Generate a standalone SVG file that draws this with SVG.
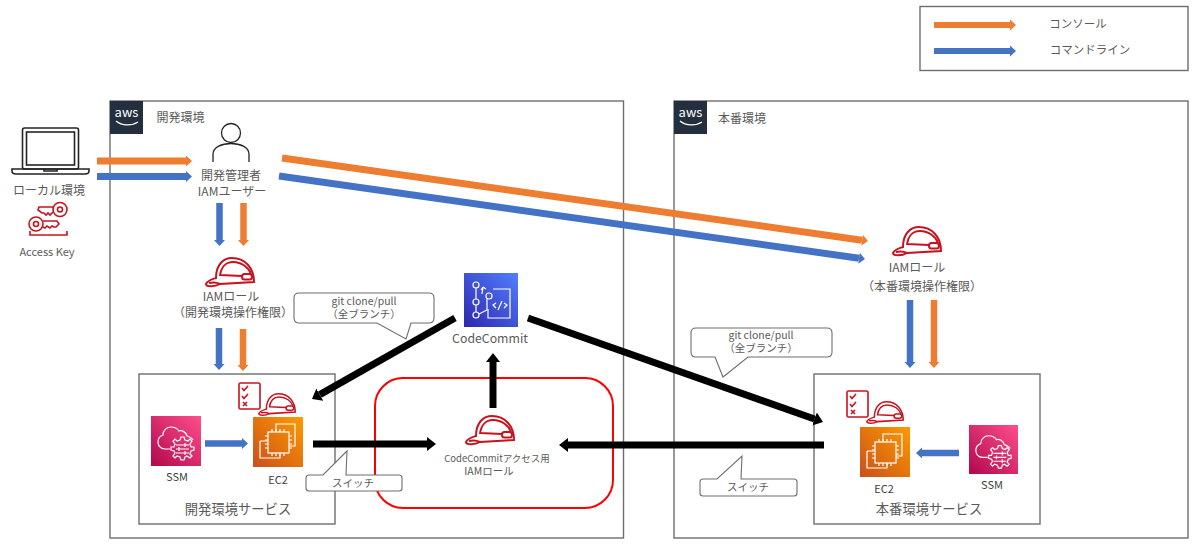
<svg xmlns="http://www.w3.org/2000/svg" width="1200" height="548" viewBox="0 0 1200 548">
<style>
text{font-family:"Noto Sans CJK JP","Noto Sans",sans-serif;font-size:12px;fill:#5a5a5a;text-anchor:middle}
.dark{fill:#404040}
.box{fill:none;stroke:#6e6e6e;stroke-width:1.4}
.call{fill:#fff;stroke:#6e6e6e;stroke-width:1.1}
.o{stroke:#ED7D31;fill:none;marker-end:url(#mo)}
.b{stroke:#4472C4;fill:none;marker-end:url(#mb)}
.k{stroke:#000;fill:none;marker-end:url(#mk)}
.w{fill:none;stroke:#fff;stroke-width:1.2}
.red{fill:none;stroke:#C7131F;stroke-width:1.6}
.hatl{fill:none;stroke:#C7131F;stroke-width:2}
.lap{fill:none;stroke:#232323;stroke-width:1.6}
</style>
<defs>
<marker id="mo" markerUnits="userSpaceOnUse" markerWidth="8" markerHeight="14" refX="0" refY="7" orient="auto"><path d="M0 1.5L6 7L0 12.500Z" fill="#ED7D31"/></marker>
<marker id="mb" markerUnits="userSpaceOnUse" markerWidth="8" markerHeight="14" refX="0" refY="7" orient="auto"><path d="M0 1.5L6 7L0 12.500Z" fill="#4472C4"/></marker>
<marker id="mk" markerUnits="userSpaceOnUse" markerWidth="10" markerHeight="16" refX="0" refY="8" orient="auto"><path d="M0 1L9 8L0 15Z" fill="#000"/></marker>
<linearGradient id="gs" x1="0" y1="1" x2="1" y2="0"><stop offset="0" stop-color="#B0084D"/><stop offset="1" stop-color="#FF4F8B"/></linearGradient>
<linearGradient id="ge" x1="0" y1="1" x2="1" y2="0"><stop offset="0" stop-color="#C8511B"/><stop offset="1" stop-color="#FF9900"/></linearGradient>
<linearGradient id="gc" x1="0" y1="1" x2="1" y2="0"><stop offset="0" stop-color="#2E27AD"/><stop offset="1" stop-color="#527FFF"/></linearGradient>
<symbol id="hat" viewBox="0 0 50 30" overflow="visible">
<path class="hatl" d="M1 27C3 23 8 22 11 21C11 7 19 1 27 1C40 1 49 11 49 25L15 27C10 30 1 30 1 27Z"/>
<path class="hatl" d="M15 19C16 10 21 5 28 5C37 5 44 11 46 17M15 18L37 19M4 26C8 25 11 25 15 27"/>
<rect class="hatl" x="37" y="17" width="10" height="5.500" rx="2.500"/>
</symbol>
<symbol id="check" viewBox="0 0 23 28" overflow="visible">
<rect class="red" x="1" y="1" width="21" height="26" rx="1.500"/>
<path class="red" d="M4 6L6 8.500L10 4M4 14L6 16.500L10 12M5 20L9 24M9 20L5 24"/>
</symbol>
<symbol id="ssm" viewBox="0 0 50 50">
<rect width="50" height="50" fill="url(#gs)"/>
<path class="w" d="M19 33H14C9 33 7 29 7 26C7 22 9 20 12 19C12 14 16 11 20 11C23 11 26 12 28 15C31 14 35 16 36 20C39 21 41 22 42 24"/>
<path class="w" d="M30 21L33 21L34 24L37 25L39 23L41 25L39 28L40 31L43 31V34L40 35L39 38L41 40L39 42L36 40L34 41L33 44H30L29 41L26 40L24 42L22 40L24 37L23 35L20 34V31L23 31L24 28L22 25L24 23L26 25L29 24Z"/>
<path class="w" d="M25 29H38M25 33H38M25 37H38M34 27V31M28 31V35M34 35V39"/>
</symbol>
<symbol id="ec2" viewBox="0 0 50 50">
<rect width="50" height="50" fill="url(#ge)"/>
<path class="w" d="M23 14V7H42V29H36M7 24H14M7 24V41H27V36"/>
<rect class="w" x="15" y="15" width="21" height="21"/>
<path class="w" d="M19 12V15M23 12V15M27 12V15M31 12V15M19 36V39M23 36V39M27 36V39M31 36V39M12 19H15M12 23H15M12 27H15M12 31H15M36 19H39M36 23H39M36 27H39M36 31H39"/>
</symbol>
</defs>

<g id="aws-dev">
<rect class="box" x="110" y="101" width="513.500" height="437"/>
<rect x="110" y="101" width="33" height="33" fill="#232F3E"/>
<text x="126.500" y="117" style="font-size:13px;fill:#fff">aws</text>
<path d="M116 121C122 126 132 126 138 122" fill="none" stroke="#fff" stroke-width="1.200"/>
<text x="180.500" y="122">開発環境</text>
</g>
<g id="aws-prod">
<rect class="box" x="674" y="101" width="514" height="437"/>
<rect x="674" y="101" width="33" height="33" fill="#232F3E"/>
<text x="690.500" y="117" style="font-size:13px;fill:#fff">aws</text>
<path d="M680 121C686 126 696 126 702 122" fill="none" stroke="#fff" stroke-width="1.200"/>
<text x="742" y="123">本番環境</text>
</g>
<g id="legend">
<rect class="box" x="920" y="6.500" width="268" height="64"/>
<text x="1078" y="28" style="font-size:11.500px">コンソール</text>
<text x="1090" y="54" style="font-size:11.500px">コマンドライン</text>
</g>
<g id="local">
<rect class="lap" x="22.500" y="128" width="56" height="41" rx="2"/>
<rect class="lap" x="26.500" y="132" width="48" height="33"/>
<path class="lap" d="M12 169H89V171C89 173 87 174 85 174H16C14 174 12 173 12 171ZM44 169V171H57V169"/>
<text x="49" y="195">ローカル環境</text>
</g>
<g id="access-key">
<circle class="red" cx="60" cy="209.500" r="7"/><circle class="red" cx="60" cy="209.500" r="2.500"/>
<path class="red" d="M53 207H39L38 210L42 213H44L46 215L48 213L50 215L53 212"/>
<circle class="red" cx="36" cy="224" r="7"/><circle class="red" cx="36" cy="224" r="2.500"/>
<path class="red" d="M43 221H57L59 224L56 227H54L52 226L50 228L47 226L45 228L43 227"/>
<path class="red" d="M30 231V235H67V231"/>
<text x="47" y="256" style="font-size:11px">Access Key</text>
</g>
<g id="dev-admin">
<circle cx="231" cy="133" r="9.500" fill="none" stroke="#232323" stroke-width="1.300"/>
<path d="M213 162V154C213 147 222 143.500 231 143.500C240 143.500 249 147 249 154V162" fill="none" stroke="#232323" stroke-width="1.300"/>
<text x="231" y="180">開発管理者</text>
<text x="232" y="195.500">IAMユーザー</text>
</g>
<g id="dev-role">
<use href="#hat" x="205" y="257" width="50" height="30"/>
<text x="231" y="301">IAMロール</text>
<text x="233" y="316.500">（開発環境操作権限）</text>
</g>
<g id="prod-role">
<use href="#hat" x="892" y="226" width="50" height="30"/>
<text x="917" y="272">IAMロール</text>
<text x="922" y="291">（本番環境操作権限）</text>
</g>
<g id="dev-service">
<rect class="box" x="139" y="374" width="196" height="150"/>
<text x="238" y="514" style="font-size:13.300px">開発環境サービス</text>
</g>
<g id="prod-service">
<rect class="box" x="814" y="374" width="226" height="150"/>
<text x="929" y="514" style="font-size:13.300px">本番環境サービス</text>
</g>
<g id="codecommit-role-area">
<rect x="375" y="378" width="238" height="130" rx="28" fill="none" stroke="#FF0000" stroke-width="2"/>
</g>
<g id="ssm-dev">
<use href="#ssm" x="151" y="416" width="50" height="50"/>
<text class="dark" x="177" y="481" style="font-size:11px">SSM</text>
</g>
<g id="ec2-dev">
<use href="#check" x="238" y="382" width="23" height="28"/>
<use href="#hat" x="258" y="393" width="38" height="23"/>
<use href="#ec2" x="253" y="417" width="50" height="50"/>
<text class="dark" x="278" y="484" style="font-size:11px">EC2</text>
</g>
<g id="ssm-prod">
<use href="#ssm" x="969" y="425" width="49" height="49"/>
<text class="dark" x="992" y="489" style="font-size:11px">SSM</text>
</g>
<g id="ec2-prod">
<use href="#check" x="846" y="390" width="23" height="28"/>
<use href="#hat" x="866" y="401" width="38" height="23"/>
<use href="#ec2" x="860" y="427" width="50" height="50"/>
<text class="dark" x="884" y="493" style="font-size:11px">EC2</text>
</g>
<g id="codecommit">
<rect x="464" y="273" width="54" height="54" fill="url(#gc)"/>
<g fill="none" stroke="#fff" stroke-width="1.200">
<circle cx="476" cy="285" r="3"/><circle cx="476" cy="302" r="3"/><circle cx="476" cy="315" r="3"/><circle cx="489" cy="296" r="3"/>
<path d="M476 288V299M476 305V312M479 314L487 310V299M482 294L483 287M483 287L481 290M483 287L486 289"/>
<path d="M493 289H510V318H488V309"/>
<path d="M496 303L493 305L496 308M504 303L507 305L504 308M502 301L498 310"/>
</g>
<text x="490" y="343" style="font-size:12.300px">CodeCommit</text>
</g>
<g id="codecommit-role">
<use href="#hat" x="465" y="415" width="50" height="30"/>
<text x="497" y="462" style="font-size:9.500px">CodeCommitアクセス用</text>
<text x="489" y="475" style="font-size:10.500px">IAMロール</text>
</g>
<g id="callouts">
<path class="call" d="M299 293H429Q434 293 434 298V318Q434 323 429 323H411L406 339L377 323H299Q294 323 294 318V298Q294 293 299 293Z"/>
<text x="364" y="305" style="font-size:10.500px">git clone/pull</text>
<text x="364" y="318" style="font-size:10.500px">（全ブランチ）</text>
<path class="call" d="M696 328H827Q832 328 832 333V352Q832 357 827 357H748L723 377L715 357H696Q691 357 691 352V333Q691 328 696 328Z"/>
<text x="761" y="339" style="font-size:10.500px">git clone/pull</text>
<text x="761" y="352" style="font-size:10.500px">（全ブランチ）</text>
<path class="call" d="M309 475H323L347 451L346 475H399Q402 475 402 478V488Q402 491 399 491H309Q306 491 306 488V478Q306 475 309 475Z"/>
<text x="353" y="487" style="font-size:10.500px">スイッチ</text>
<path class="call" d="M703 479H717L742 456L741 479H794Q797 479 797 482V493Q797 496 794 496H703Q700 496 700 493V482Q700 479 703 479Z"/>
<text x="748" y="491" style="font-size:10.500px">スイッチ</text>
</g>
<g id="connectors">
<path class="o" stroke-width="6" d="M934 25H1010"/>
<path class="b" stroke-width="6" d="M934 51H1010"/>
<path class="o" stroke-width="7" d="M97 161H186"/>
<path class="b" stroke-width="7" d="M97 176.500H186"/>
<path class="o" stroke-width="7" d="M282 158L862 240.200"/>
<path class="b" stroke-width="7" d="M279 176L859 258.200"/>
<path class="b" stroke-width="6.500" d="M219.500 203V240"/>
<path class="o" stroke-width="6.500" d="M243.500 203V240"/>
<path class="b" stroke-width="6.500" d="M219 328V364"/>
<path class="o" stroke-width="6.500" d="M243 329V365"/>
<path class="b" stroke-width="6.500" d="M910 300V362"/>
<path class="o" stroke-width="6.500" d="M934 300V362"/>
<path class="b" stroke-width="6.500" d="M205 443.500H242"/>
<path class="b" stroke-width="6.500" d="M959 453H922"/>
<path class="k" stroke-width="7" d="M455 318L319.800 394.600"/>
<path class="k" stroke-width="7" d="M528 318L814.500 419"/>
<path class="k" stroke-width="7" d="M313 444H427"/>
<path class="k" stroke-width="7" d="M824 445H568"/>
<path class="k" stroke-width="7" d="M493 408V362"/>
</g>
</svg>
